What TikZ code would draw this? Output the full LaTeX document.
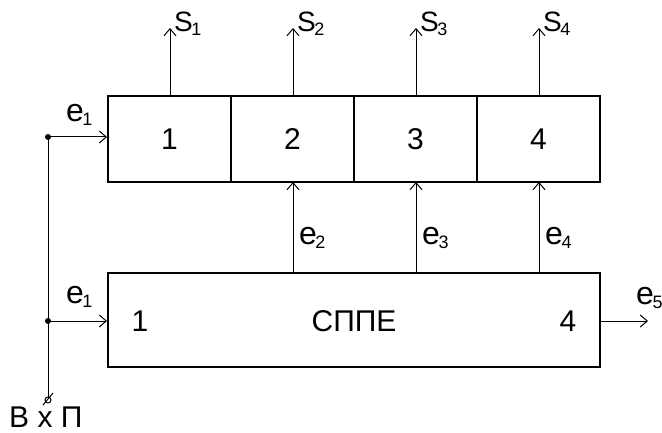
\documentclass[tikz,border=0pt]{standalone}
\usepackage{fontspec}
\setmainfont{Liberation Sans}
\usetikzlibrary{arrows.meta}
\begin{document}
\begin{tikzpicture}[x=1pt,y=-1pt,
  blockbox/.style={draw,line width=2pt,inner sep=0pt},
  sig/.style={line width=1pt,-{Straight Barb[length=7pt,width=12pt,line width=1pt]}},
  lbl/.style={font=\fontsize{30}{32}\selectfont,inner sep=0pt},
  elbl/.style={font=\fontsize{32}{34}\selectfont,inner sep=0pt,anchor=base west},
  slbl/.style={font=\fontsize{28}{30}\selectfont,inner sep=0pt,anchor=base west},
  junction/.style={circle,fill,inner sep=0pt,minimum size=6pt}]
\useasboundingbox (0,0) rectangle (662,433);
\newcommand{\sublbl}[2]{#1\kern-1.5pt\raisebox{-4pt}{\fontsize{18}{19}\selectfont #2}}
% upper row of cells
\node[blockbox,minimum width=123pt,minimum height=86pt] (c1) at (169.5,139) {};
\node[blockbox,minimum width=123pt,minimum height=86pt] (c2) at (292.5,139) {};
\node[blockbox,minimum width=123pt,minimum height=86pt] (c3) at (415.5,139) {};
\node[blockbox,minimum width=123pt,minimum height=86pt] (c4) at (538.5,139) {};
\node[lbl] at (c1) {1};
\node[lbl] at (c2) {2};
\node[lbl] at (c3) {3};
\node[lbl] at (c4) {4};
% lower block
\node[blockbox,minimum width=492pt,minimum height=94pt] (sp) at (354,320) {};
\node[lbl] at (140,321) {1};
\node[lbl] at (354,321) {СППЕ};
\node[lbl] at (568,321) {4};
% outputs S
\foreach \i/\x in {1/170,2/293,3/416,4/539}{
  \coordinate (s\i) at (\x,28);
  \draw[sig] (\x,96) -- (s\i);
  \node[slbl] at (\x+4,32) {\sublbl{S}{\i}};
}
% internal links e2..e4
\foreach \i/\x in {2/293,3/416,4/539}{
  \draw[sig] (\x,273) -- (\x,182);
  \node[elbl] at (\x+6,244) {\sublbl{e}{\i}};
}
% input bus
\coordinate (j1) at (48,137);
\coordinate (j2) at (48,321);
\node[circle,draw,line width=1pt,inner sep=0pt,minimum size=6pt] (inp) at (48,400) {};
\draw[line width=1pt] (j1) -- (inp.north);
\draw[line width=1pt] (43,405) -- (53,393);
\node[junction] at (j1) {};
\node[junction] at (j2) {};
\draw[sig] (j1) -- (c1.west |- j1);
\draw[sig] (j2) -- (sp.west |- j2);
\node[elbl] at (66,122) {\sublbl{e}{1}};
\node[elbl] at (66,303) {\sublbl{e}{1}};
% output e5
\coordinate (e5) at (648,321);
\draw[sig] (sp.east |- e5) -- (e5);
\node[elbl] at (636,305) {\sublbl{e}{5}};
% input label
\node[lbl,anchor=base west] at (9,427) {В х П};
\end{tikzpicture}
\end{document}
